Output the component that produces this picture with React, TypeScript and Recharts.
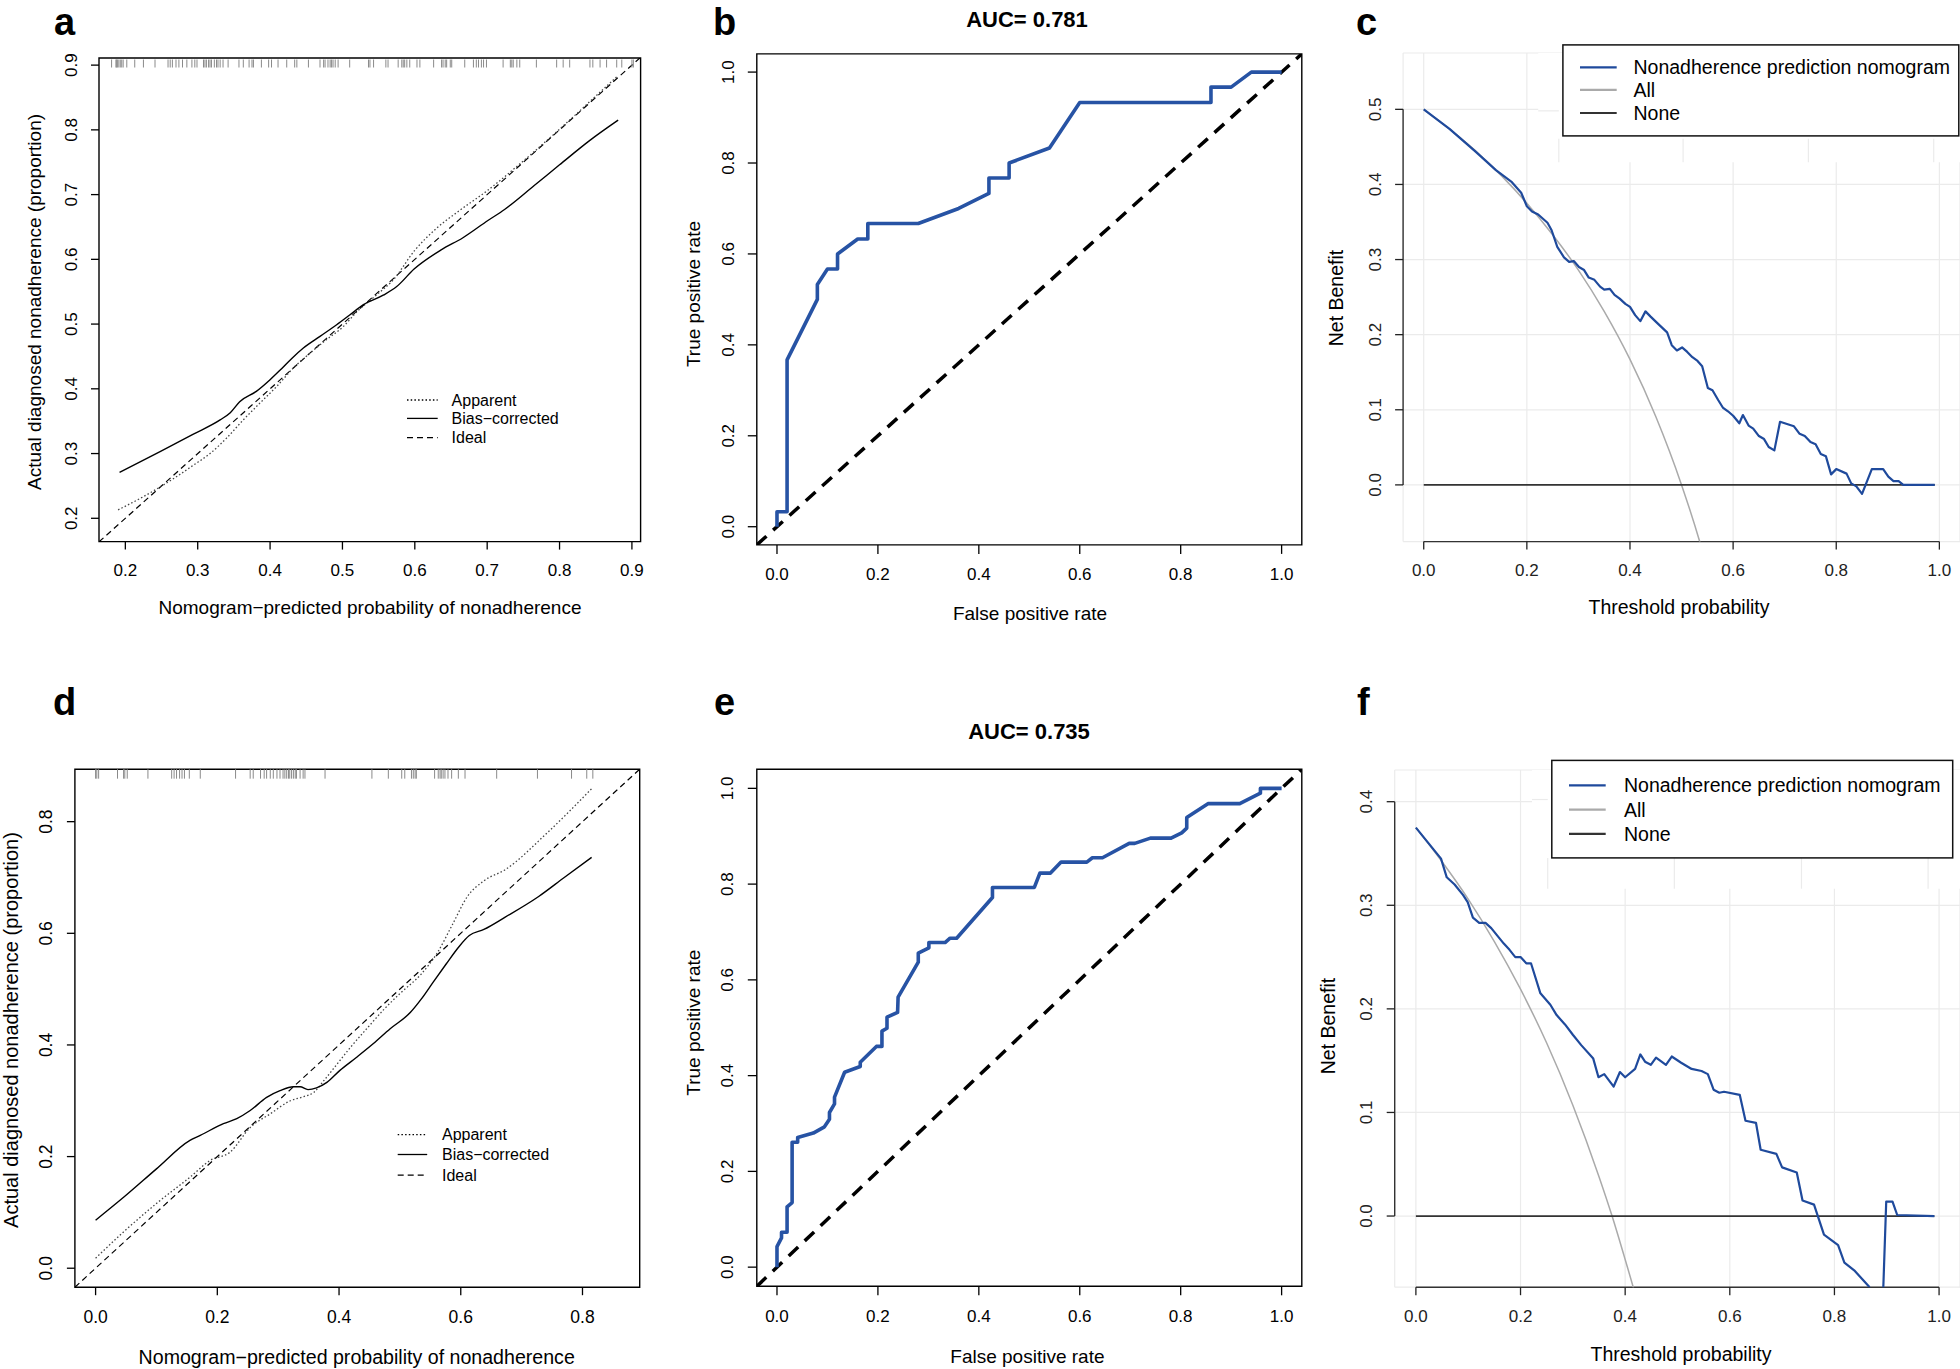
import React from 'react'
import { LineChart, Line, XAxis, YAxis, CartesianGrid, ReferenceArea, ReferenceLine } from 'recharts'

const W = 1960
const H = 1369
const FONT = '"Liberation Sans", Arial, Helvetica, sans-serif'
const ROC_BLUE = '#2753a4'
const DCA_BLUE = '#1f4a9c'

// ---- panel a: calibration (training)
const rugA = [0.181, 0.187, 0.188, 0.189, 0.191, 0.193, 0.195, 0.197, 0.202, 0.213, 0.225, 0.241, 0.259, 0.262, 0.265, 0.27, 0.274, 0.279, 0.285, 0.292, 0.296, 0.299, 0.308, 0.31, 0.312, 0.315, 0.317, 0.319, 0.323, 0.326, 0.328, 0.331, 0.335, 0.342, 0.357, 0.363, 0.371, 0.375, 0.377, 0.388, 0.398, 0.402, 0.411, 0.423, 0.434, 0.437, 0.453, 0.469, 0.474, 0.476, 0.48, 0.483, 0.485, 0.487, 0.49, 0.494, 0.51, 0.536, 0.538, 0.543, 0.56, 0.563, 0.577, 0.582, 0.584, 0.586, 0.589, 0.593, 0.603, 0.607, 0.626, 0.637, 0.639, 0.642, 0.644, 0.649, 0.651, 0.669, 0.681, 0.685, 0.688, 0.692, 0.695, 0.699, 0.722, 0.732, 0.734, 0.736, 0.741, 0.745, 0.768, 0.796, 0.805, 0.814, 0.842, 0.846, 0.856, 0.865, 0.879, 0.886, 0.9, 0.902]
const appA_x = [0.19, 0.225, 0.271, 0.294, 0.317, 0.34, 0.363, 0.386, 0.409, 0.432, 0.455, 0.478, 0.501, 0.52, 0.547, 0.57, 0.6, 0.63, 0.66, 0.7, 0.75, 0.8, 0.85, 0.881]
const appA_y = [0.213, 0.2335, 0.2645, 0.282, 0.3, 0.324, 0.352, 0.378, 0.4035, 0.432, 0.455, 0.476, 0.496, 0.519, 0.545, 0.568, 0.614, 0.648, 0.674, 0.706, 0.752, 0.801, 0.852, 0.884]
const biasA_x = [0.192, 0.248, 0.294, 0.331, 0.345, 0.358, 0.381, 0.4, 0.414, 0.43, 0.446, 0.469, 0.492, 0.51, 0.529, 0.557, 0.575, 0.599, 0.637, 0.666, 0.701, 0.724, 0.765, 0.8, 0.841, 0.881]
const biasA_y = [0.271, 0.303, 0.33, 0.352, 0.363, 0.38, 0.396, 0.414, 0.429, 0.447, 0.463, 0.481, 0.499, 0.514, 0.53, 0.545, 0.558, 0.585, 0.615, 0.633, 0.66, 0.677, 0.714, 0.746, 0.783, 0.815]
const domA: [number, number] = [0.1636, 0.912]
const domAy: [number, number] = [0.164, 0.911]
const ticksA = [0.2, 0.3, 0.4, 0.5, 0.6, 0.7, 0.8, 0.9]

// ---- panel b: ROC (training)
const rocB_fpr = [0, 0, 0.02, 0.02, 0.08, 0.08, 0.1, 0.12, 0.12, 0.16, 0.18, 0.18, 0.28, 0.36, 0.42, 0.42, 0.46, 0.46, 0.54, 0.6, 0.86, 0.86, 0.9, 0.94, 1.0]
const rocB_tpr = [0, 0.033, 0.033, 0.367, 0.5, 0.533, 0.567, 0.567, 0.6, 0.633, 0.633, 0.667, 0.667, 0.7, 0.733, 0.767, 0.767, 0.8, 0.833, 0.933, 0.933, 0.967, 0.967, 1.0, 1.0]
const domRoc: [number, number] = [-0.04, 1.04]
const ticksRoc = [0, 0.2, 0.4, 0.6, 0.8, 1.0]

// ---- panel c: decision curve (training)
const dcaC_x = [0, 0.05, 0.1, 0.14, 0.171, 0.189, 0.2, 0.21, 0.222, 0.24, 0.248, 0.259, 0.272, 0.282, 0.291, 0.301, 0.311, 0.32, 0.331, 0.342, 0.35, 0.361, 0.37, 0.38, 0.391, 0.4, 0.41, 0.42, 0.43, 0.44, 0.452, 0.472, 0.481, 0.491, 0.501, 0.511, 0.521, 0.531, 0.54, 0.551, 0.56, 0.571, 0.58, 0.59, 0.6, 0.612, 0.619, 0.63, 0.639, 0.65, 0.66, 0.669, 0.68, 0.691, 0.718, 0.729, 0.739, 0.75, 0.76, 0.77, 0.78, 0.79, 0.8, 0.82, 0.829, 0.839, 0.85, 0.869, 0.891, 0.901, 0.911, 0.921, 0.93, 0.991]
const dcaC_y = [0.5, 0.474, 0.444, 0.419, 0.403, 0.389, 0.371, 0.364, 0.36, 0.349, 0.339, 0.317, 0.303, 0.297, 0.298, 0.29, 0.286, 0.276, 0.273, 0.264, 0.26, 0.261, 0.253, 0.248, 0.241, 0.237, 0.226, 0.218, 0.231, 0.224, 0.216, 0.203, 0.186, 0.179, 0.183, 0.177, 0.17, 0.165, 0.158, 0.129, 0.126, 0.113, 0.103, 0.098, 0.092, 0.082, 0.093, 0.079, 0.075, 0.065, 0.061, 0.0505, 0.046, 0.084, 0.078, 0.068, 0.065, 0.057, 0.054, 0.041, 0.038, 0.014, 0.021, 0.015, 0.002, -0.002, -0.012, 0.021, 0.021, 0.011, 0.005, 0.005, 0, 0]
const allC_x = [0, 0.1, 0.2, 0.25, 0.3, 0.35, 0.4, 0.45, 0.5, 0.535, 0.545]
const allC_y = [0.5, 0.445, 0.375, 0.333, 0.286, 0.231, 0.167, 0.091, 0.0, -0.075, -0.099]
const noneC_x = [0, 0.991]
const noneC_y = [0, 0]
const domCx: [number, number] = [-0.04, 1.04]
const domCy: [number, number] = [-0.0755, 0.575]
const ticksCy = [0, 0.1, 0.2, 0.3, 0.4, 0.5]
const ghostC_x = [0.262, 0.503, 0.746, 0.989]

// ---- panel d: calibration (validation)
const rugD = [0, 0.002, 0.005, 0.036, 0.046, 0.048, 0.052, 0.086, 0.125, 0.129, 0.133, 0.138, 0.142, 0.146, 0.154, 0.172, 0.23, 0.254, 0.259, 0.271, 0.277, 0.281, 0.287, 0.292, 0.298, 0.303, 0.308, 0.311, 0.314, 0.317, 0.319, 0.322, 0.325, 0.328, 0.33, 0.336, 0.341, 0.344, 0.377, 0.454, 0.481, 0.503, 0.508, 0.519, 0.522, 0.525, 0.527, 0.557, 0.563, 0.566, 0.568, 0.571, 0.574, 0.579, 0.585, 0.596, 0.607, 0.659, 0.726, 0.782, 0.807, 0.817]
const appD_x = [0, 0.046, 0.1, 0.155, 0.188, 0.221, 0.2545, 0.287, 0.32, 0.342, 0.3585, 0.375, 0.397, 0.419, 0.447, 0.474, 0.5, 0.535, 0.562, 0.586, 0.611, 0.638, 0.673, 0.742, 0.815]
const appD_y = [0.018, 0.065, 0.116, 0.163, 0.193, 0.208, 0.2526, 0.2766, 0.3, 0.3075, 0.315, 0.336, 0.366, 0.396, 0.431, 0.464, 0.492, 0.527, 0.566, 0.615, 0.666, 0.694, 0.714, 0.78, 0.859]
const biasD_x = [0, 0.046, 0.1, 0.155, 0.172, 0.21, 0.232, 0.254, 0.281, 0.303, 0.325, 0.336, 0.349, 0.363, 0.38, 0.401, 0.429, 0.456, 0.484, 0.517, 0.535, 0.555, 0.576, 0.597, 0.614, 0.638, 0.673, 0.728, 0.77, 0.815]
const biasD_y = [0.086, 0.127, 0.178, 0.229, 0.238, 0.259, 0.268, 0.2825, 0.306, 0.318, 0.325, 0.325, 0.32, 0.323, 0.333, 0.354, 0.378, 0.402, 0.429, 0.458, 0.482, 0.513, 0.545, 0.576, 0.596, 0.607, 0.629, 0.666, 0.7, 0.736]
const domD: [number, number] = [-0.034, 0.894]
const ticksD = [0, 0.2, 0.4, 0.6, 0.8]

// ---- panel e: ROC (validation)
const rocE_fpr = [0, 0, 0.009, 0.009, 0.02, 0.02, 0.03, 0.03, 0.041, 0.041, 0.072, 0.094, 0.104, 0.104, 0.114, 0.114, 0.134, 0.165, 0.165, 0.197, 0.208, 0.208, 0.218, 0.218, 0.239, 0.24, 0.28, 0.28, 0.301, 0.301, 0.333, 0.343, 0.356, 0.427, 0.427, 0.51, 0.521, 0.542, 0.563, 0.614, 0.625, 0.645, 0.698, 0.709, 0.74, 0.781, 0.802, 0.812, 0.812, 0.854, 0.917, 0.958, 0.958, 1.0]
const rocE_tpr = [0, 0.043, 0.061, 0.073, 0.073, 0.126, 0.135, 0.261, 0.261, 0.271, 0.28, 0.293, 0.309, 0.323, 0.341, 0.355, 0.407, 0.419, 0.428, 0.461, 0.461, 0.493, 0.499, 0.522, 0.532, 0.564, 0.637, 0.656, 0.667, 0.678, 0.678, 0.687, 0.687, 0.772, 0.793, 0.793, 0.823, 0.823, 0.846, 0.846, 0.855, 0.855, 0.885, 0.885, 0.896, 0.896, 0.907, 0.917, 0.939, 0.968, 0.968, 0.99, 1.0, 1.0]

// ---- panel f: decision curve (validation)
const dcaF_x = [0, 0.048, 0.059, 0.074, 0.09, 0.099, 0.109, 0.121, 0.133, 0.144, 0.168, 0.179, 0.19, 0.2, 0.211, 0.22, 0.238, 0.257, 0.269, 0.285, 0.3, 0.316, 0.339, 0.349, 0.36, 0.378, 0.39, 0.4, 0.419, 0.429, 0.438, 0.449, 0.459, 0.478, 0.489, 0.507, 0.527, 0.546, 0.558, 0.569, 0.58, 0.589, 0.619, 0.63, 0.65, 0.659, 0.689, 0.7, 0.728, 0.739, 0.761, 0.78, 0.807, 0.819, 0.839, 0.866, 0.878, 0.892, 0.899, 0.911, 0.92, 0.991]
const dcaF_y = [0.375, 0.345, 0.327, 0.32, 0.31, 0.303, 0.288, 0.283, 0.283, 0.278, 0.263, 0.257, 0.25, 0.25, 0.244, 0.244, 0.215, 0.204, 0.194, 0.185, 0.175, 0.165, 0.152, 0.134, 0.137, 0.125, 0.139, 0.134, 0.142, 0.156, 0.149, 0.146, 0.153, 0.146, 0.154, 0.148, 0.142, 0.14, 0.137, 0.122, 0.119, 0.12, 0.117, 0.092, 0.09, 0.064, 0.06, 0.047, 0.042, 0.015, 0.011, -0.018, -0.028, -0.045, -0.053, -0.068, -0.085, -0.09, 0.014, 0.014, 0.001, 0]
const allF_x = [0, 0.05, 0.1, 0.15, 0.2, 0.25, 0.3, 0.35, 0.375, 0.4, 0.42, 0.43]
const allF_y = [0.375, 0.342, 0.306, 0.265, 0.219, 0.167, 0.107, 0.038, 0.0, -0.042, -0.077, -0.096]
const noneF_x = [0, 0.991]
const noneF_y = [0, 0]
const domFx: [number, number] = [-0.0405, 1.04]
const domFy: [number, number] = [-0.0687, 0.4306]
const ticksFy = [0, 0.1, 0.2, 0.3, 0.4]
const ghostF_x = [0.252, 0.494, 0.737, 0.979]

const calLegend = ['Apparent', 'Bias\u2212corrected', 'Ideal']
const dcaLegend = ['Nonadherence prediction nomogram', 'All', 'None']

const pts = (xs: number[], ys: number[]) => xs.map((x, i) => ({ x, y: ys[i] }))
const rug = (xs: number[], y: number) => xs.map((x) => ({ x, y }))
const fmt = (v: number) => v.toFixed(1)

function xTick(off: number, len: number, size: number, fill = '#000') {
  return (p: any) => (
    <text x={p.x} y={p.y - len + off} dy="0.36em" textAnchor="middle" fontSize={size} fontFamily={FONT} fill={fill}>
      {fmt(Number(p.payload.value))}
    </text>
  )
}

function yTick(off: number, len: number, size: number, fill = '#000') {
  return (p: any) => {
    const cx = p.x + len - off
    return (
      <text x={cx} y={p.y} dy="0.36em" textAnchor="middle" transform={`rotate(-90 ${cx} ${p.y})`} fontSize={size} fontFamily={FONT} fill={fill}>
        {fmt(Number(p.payload.value))}
      </text>
    )
  }
}

function rugTick(len: number) {
  return (p: any) => (
    <line key={`rug-${p.index}`} x1={p.cx} x2={p.cx} y1={p.cy - len / 2} y2={p.cy + len / 2} stroke="#8a8a8a" strokeWidth={1} />
  )
}

interface PanelProps {
  // plot-region edges in page pixels
  box: { left: number; top: number; right: number; bottom: number }
  xd: [number, number]
  yd: [number, number]
  xt: number[]
  yt: number[]
  len: number
  off: number
  size: number
  grid?: boolean
  tc?: string
  children: React.ReactNode
}

function Panel({ box, xd, yd, xt, yt, len, off, size, grid, tc = '#000', children }: PanelProps) {
  // axes are 1px thick so Recharts still draws them; the margin absorbs that pixel
  const m = { left: box.left - 1, top: box.top, right: Math.max(0, W - box.right), bottom: H - box.bottom - 1 }
  return (
    <div style={{ position: 'absolute', left: 0, top: 0 }}>
      <LineChart width={W} height={H} margin={m}>
        {grid ? <CartesianGrid stroke="#ebebeb" strokeWidth={1.2} /> : null}
        <XAxis type="number" dataKey="x" domain={xd} ticks={xt} interval={0} allowDataOverflow height={1}
          axisLine={false} tickSize={len} tickMargin={0} tickLine={{ stroke: tc, strokeWidth: 1.3 }} tick={xTick(off, len, size, tc)} />
        <YAxis type="number" domain={yd} ticks={yt} interval={0} allowDataOverflow width={1}
          axisLine={false} tickSize={len} tickMargin={0} tickLine={{ stroke: tc, strokeWidth: 1.3 }} tick={yTick(off, len, size, tc)} />
        {children}
      </LineChart>
    </div>
  )
}

function Title({ x, y, text, size, rot }: { x: number; y: number; text: string; size: number; rot?: boolean }) {
  return (
    <text x={x} y={y} dy="0.36em" textAnchor="middle" fontSize={size} fontFamily={FONT} fill="#000"
      transform={rot ? `rotate(-90 ${x} ${y})` : undefined}>
      {text}
    </text>
  )
}

function CalLegend({ x0, x1, tx, rows }: { x0: number; x1: number; tx: number; rows: number[] }) {
  const dash = ['1.5 2.2', undefined, '6 4']
  return (
    <g>
      {calLegend.map((t, i) => (
        <g key={t}>
          <line x1={x0} x2={x1} y1={rows[i]} y2={rows[i]} stroke="#000" strokeWidth={1.3} strokeDasharray={dash[i]} />
          <text x={tx} y={rows[i]} dy="0.36em" fontSize={16} fontFamily={FONT} fill="#000">{t}</text>
        </g>
      ))}
    </g>
  )
}

function DcaLegend({ box, x0, x1, tx, rows }: { box: [number, number, number, number]; x0: number; x1: number; tx: number; rows: number[] }) {
  const cols = [DCA_BLUE, '#aaaaaa', '#333333']
  return (
    <g>
      <rect x={box[0]} y={box[1]} width={box[2]} height={box[3]} fill="#fff" stroke="#111" strokeWidth={1.5} />
      {dcaLegend.map((t, i) => (
        <g key={t}>
          <line x1={x0} x2={x1} y1={rows[i]} y2={rows[i]} stroke={cols[i]} strokeWidth={2.2} />
          <text x={tx} y={rows[i]} dy="0.36em" fontSize={19.5} fontFamily={FONT} fill="#000">{t}</text>
        </g>
      ))}
    </g>
  )
}

const lineBase = { dot: false as const, activeDot: false as const, isAnimationActive: false, dataKey: 'y' }

export default function App() {
  return (
    <div style={{ position: 'absolute', left: 0, top: 0, width: W, height: H, background: '#fff', overflow: 'hidden', fontFamily: FONT }}>
      {/* a */}
      <Panel box={{ left: 99, top: 58, right: 640.6, bottom: 541.6 }} xd={domA} yd={domAy} xt={ticksA} yt={ticksA} len={8} off={28} size={17}>
        <ReferenceArea x1={domA[0]} x2={domA[1]} y1={domAy[0]} y2={domAy[1]} fill="none" stroke="#000" strokeWidth={1.4} ifOverflow="visible" />
        <Line {...lineBase} data={pts(domA, domA)} type="linear" stroke="#000" strokeWidth={1.2} strokeDasharray="6 4" />
        <Line {...lineBase} data={pts(appA_x, appA_y)} type="monotone" stroke="#444" strokeWidth={1.3} strokeDasharray="1.5 2.2" />
        <Line {...lineBase} data={pts(biasA_x, biasA_y)} type="monotone" stroke="#000" strokeWidth={1.4} />
        <Line {...lineBase} data={rug(rugA, 0.9025)} stroke="none" dot={rugTick(8)} />
      </Panel>

      {/* b */}
      <Panel box={{ left: 756.8, top: 53.9, right: 1301.8, bottom: 544.9 }} xd={domRoc} yd={domRoc} xt={ticksRoc} yt={ticksRoc} len={9} off={29} size={17}>
        <ReferenceArea x1={domRoc[0]} x2={domRoc[1]} y1={domRoc[0]} y2={domRoc[1]} fill="none" stroke="#000" strokeWidth={1.4} ifOverflow="visible" />
        <Line {...lineBase} data={pts(domRoc, domRoc)} type="linear" stroke="#000" strokeWidth={3.5} strokeDasharray="13 9" />
        <Line {...lineBase} data={pts(rocB_fpr, rocB_tpr)} type="linear" stroke={ROC_BLUE} strokeWidth={3.6} strokeLinejoin="round" />
      </Panel>

      {/* c */}
      <Panel box={{ left: 1403.1, top: 53, right: 1960, bottom: 541.6 }} xd={domCx} yd={domCy} xt={ticksRoc} yt={ticksCy} len={8} off={28.5} size={17} grid tc="#222">
        <ReferenceArea x1={0.222} x2={domCx[1]} y1={0.4294} y2={domCy[1]} fill="#fff" fillOpacity={1} stroke="none" ifOverflow="visible" />
        {ghostC_x.map((g) => (
          <ReferenceLine key={g} segment={[{ x: g, y: 0.4294 }, { x: g, y: 0.461 }]} stroke="#ebebeb" strokeWidth={1.2} ifOverflow="visible" />
        ))}
        <ReferenceLine segment={[{ x: 0.222, y: 0.498 }, { x: ghostC_x[0], y: 0.498 }]} stroke="#ebebeb" strokeWidth={1.2} ifOverflow="visible" />
        <ReferenceLine segment={[{ x: 0, y: domCy[0] }, { x: 1, y: domCy[0] }]} stroke="#333" strokeWidth={1.4} ifOverflow="visible" />
        <ReferenceLine segment={[{ x: domCx[0], y: 0 }, { x: domCx[0], y: 0.5 }]} stroke="#333" strokeWidth={1.4} ifOverflow="visible" />
        <Line {...lineBase} data={pts(allC_x, allC_y)} type="monotone" stroke="#aaaaaa" strokeWidth={1.5} />
        <Line {...lineBase} data={pts(noneC_x, noneC_y)} type="linear" stroke="#333" strokeWidth={1.8} />
        <Line {...lineBase} data={pts(dcaC_x, dcaC_y)} type="linear" stroke={DCA_BLUE} strokeWidth={2.2} strokeLinejoin="round" />
      </Panel>

      {/* d */}
      <Panel box={{ left: 74.9, top: 769.2, right: 639.7, bottom: 1287.2 }} xd={domD} yd={domD} xt={ticksD} yt={ticksD} len={8} off={29} size={17.5}>
        <ReferenceArea x1={domD[0]} x2={domD[1]} y1={domD[0]} y2={domD[1]} fill="none" stroke="#000" strokeWidth={1.4} ifOverflow="visible" />
        <Line {...lineBase} data={pts(domD, domD)} type="linear" stroke="#000" strokeWidth={1.2} strokeDasharray="6 4" />
        <Line {...lineBase} data={pts(appD_x, appD_y)} type="monotone" stroke="#444" strokeWidth={1.3} strokeDasharray="1.5 2.2" />
        <Line {...lineBase} data={pts(biasD_x, biasD_y)} type="monotone" stroke="#000" strokeWidth={1.4} />
        <Line {...lineBase} data={rug(rugD, 0.886)} stroke="none" dot={rugTick(10)} />
      </Panel>

      {/* e */}
      <Panel box={{ left: 756.8, top: 769.2, right: 1301.8, bottom: 1286.3 }} xd={domRoc} yd={domRoc} xt={ticksRoc} yt={ticksRoc} len={9} off={29.5} size={17}>
        <ReferenceArea x1={domRoc[0]} x2={domRoc[1]} y1={domRoc[0]} y2={domRoc[1]} fill="none" stroke="#000" strokeWidth={1.4} ifOverflow="visible" />
        <Line {...lineBase} data={pts(domRoc, domRoc)} type="linear" stroke="#000" strokeWidth={3.5} strokeDasharray="13 9" />
        <Line {...lineBase} data={pts(rocE_fpr, rocE_tpr)} type="linear" stroke={ROC_BLUE} strokeWidth={3.6} strokeLinejoin="round" />
      </Panel>

      {/* f */}
      <Panel box={{ left: 1394.7, top: 770, right: 1960, bottom: 1287.2 }} xd={domFx} yd={domFy} xt={ticksRoc} yt={ticksFy} len={8} off={29} size={17} grid tc="#222">
        <ReferenceArea x1={0.222} x2={domFx[1]} y1={0.316} y2={domFy[1]} fill="#fff" fillOpacity={1} stroke="none" ifOverflow="visible" />
        {ghostF_x.map((g) => (
          <ReferenceLine key={g} segment={[{ x: g, y: 0.316 }, { x: g, y: 0.3457 }]} stroke="#ebebeb" strokeWidth={1.2} ifOverflow="visible" />
        ))}
        <ReferenceLine segment={[{ x: 0.222, y: 0.4021 }, { x: ghostF_x[0], y: 0.4021 }]} stroke="#ebebeb" strokeWidth={1.2} ifOverflow="visible" />
        <ReferenceLine segment={[{ x: 0, y: domFy[0] }, { x: 1, y: domFy[0] }]} stroke="#333" strokeWidth={1.4} ifOverflow="visible" />
        <ReferenceLine segment={[{ x: domFx[0], y: 0 }, { x: domFx[0], y: 0.4 }]} stroke="#333" strokeWidth={1.4} ifOverflow="visible" />
        <Line {...lineBase} data={pts(allF_x, allF_y)} type="monotone" stroke="#aaaaaa" strokeWidth={1.5} />
        <Line {...lineBase} data={pts(noneF_x, noneF_y)} type="linear" stroke="#333" strokeWidth={1.8} />
        <Line {...lineBase} data={pts(dcaF_x, dcaF_y)} type="linear" stroke={DCA_BLUE} strokeWidth={2.2} strokeLinejoin="round" />
      </Panel>

      {/* titles, panel letters and legends */}
      <svg width={W} height={H} style={{ position: 'absolute', left: 0, top: 0, pointerEvents: 'none' }}>
        <g fontFamily={FONT} fontWeight="bold" fontSize={38} fill="#000">
          <text x={54} y={35}>a</text>
          <text x={713} y={35}>b</text>
          <text x={1356} y={35}>c</text>
          <text x={53} y={715}>d</text>
          <text x={714} y={715}>e</text>
          <text x={1357} y={715}>f</text>
        </g>
        <g fontFamily={FONT} fontWeight="bold" fontSize={22} fill="#000" textAnchor="middle">
          <text x={1027} y={26.5}>AUC= 0.781</text>
          <text x={1029} y={739.3}>AUC= 0.735</text>
        </g>

        <Title x={370} y={607} size={19} text={'Nomogram\u2212predicted probability of nonadherence'} />
        <Title x={34.5} y={302} size={19} rot text="Actual diagnosed nonadherence (proportion)" />
        <Title x={1030} y={613} size={19} text="False positive rate" />
        <Title x={693} y={294} size={19} rot text="True positive rate" />
        <Title x={1679} y={607} size={19.5} text="Threshold probability" />
        <Title x={1335.5} y={298} size={19.5} rot text="Net Benefit" />

        <Title x={356.7} y={1356.6} size={19.6} text={'Nomogram\u2212predicted probability of nonadherence'} />
        <Title x={11} y={1030} size={20} rot text="Actual diagnosed nonadherence (proportion)" />
        <Title x={1027.4} y={1356.6} size={19} text="False positive rate" />
        <Title x={692.8} y={1022.7} size={19} rot text="True positive rate" />
        <Title x={1681} y={1354.4} size={19.5} text="Threshold probability" />
        <Title x={1328} y={1026} size={19.5} rot text="Net Benefit" />

        <CalLegend x0={407} x1={437.7} tx={451.6} rows={[400, 418.4, 437.6]} />
        <CalLegend x0={397.7} x1={427.2} tx={442} rows={[1134.7, 1154.5, 1175.2]} />
        <DcaLegend box={[1562.9, 44.9, 395.9, 91]} x0={1580} x1={1616.7} tx={1633.5} rows={[67.3, 89.8, 113]} />
        <DcaLegend box={[1551.8, 760.4, 400.9, 97.5]} x0={1569} x1={1605.7} tx={1624} rows={[785.4, 809.6, 833.8]} />
      </svg>
    </div>
  )
}
